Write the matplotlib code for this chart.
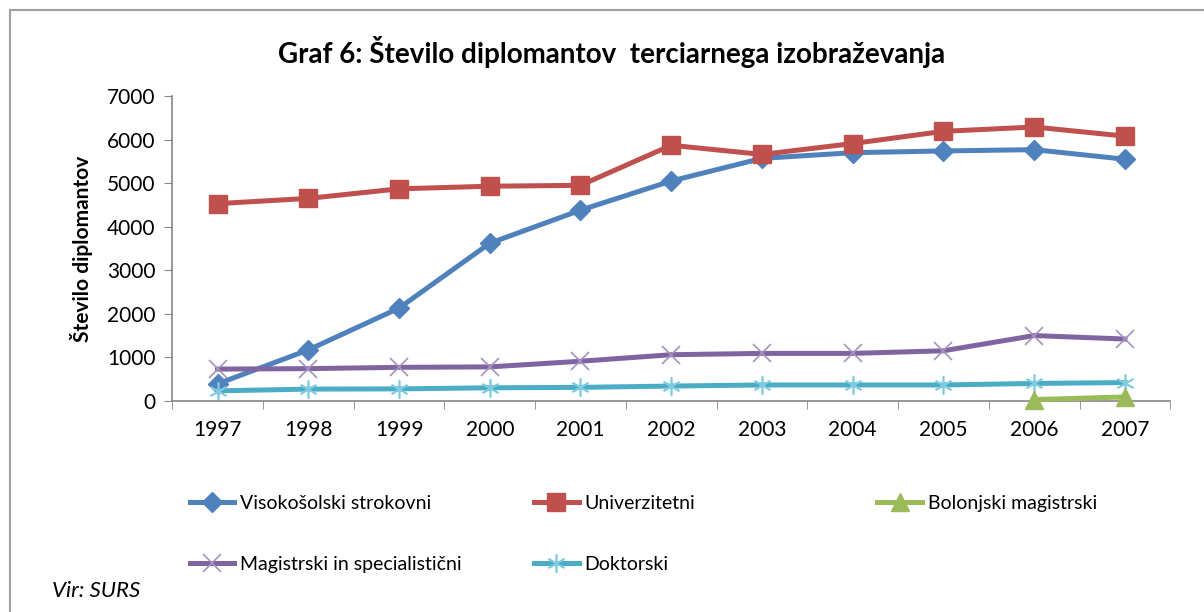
import numpy as np
import matplotlib.pyplot as plt
from matplotlib.patches import Rectangle

plt.rcParams['font.family'] = ['Lato', 'DejaVu Sans']

# podatki
leta = ['1997', '1998', '1999', '2000', '2001', '2002', '2003', '2004', '2005', '2006', '2007']
visokosolski = [390, 1170, 2130, 3620, 4380, 5050, 5570, 5700, 5740, 5770, 5550]
univerzitetni = [4530, 4650, 4870, 4930, 4950, 5870, 5660, 5910, 6190, 6290, 6080]
bolonjski = [30, 90]  # samo 2006, 2007
magistrski = [730, 740, 770, 780, 910, 1060, 1090, 1090, 1150, 1500, 1420]
doktorski = [230, 270, 275, 300, 310, 340, 365, 365, 365, 400, 420]

x = np.arange(len(leta))

fig = plt.figure(figsize=(12.04, 6.12), dpi=100)
ax = fig.add_axes([0.143, 0.345, 0.829, 0.498])

l1, = ax.plot(x, visokosolski, '-D', color='#4F81BD', lw=3.6, ms=10, label='Visokošolski strokovni')
l2, = ax.plot(x, univerzitetni, '-s', color='#C0504D', lw=3.6, ms=13, label='Univerzitetni')
l3, = ax.plot(x[-2:], bolonjski, '-^', color='#9BBB59', lw=3.6, ms=13, label='Bolonjski magistrski',
              clip_on=False, zorder=5)
l4, = ax.plot(x, magistrski, '-x', color='#8064A2', lw=3.6, ms=13, mew=1.2, mec='#A692C0', label='Magistrski in specialistični')
l5, = ax.plot(x, doktorski, '-', color='#4BACC6', lw=3.6, marker=(6, 2, 0), ms=13, mew=1.2, mec='#7FCBE0',
              label='Doktorski', clip_on=False)

ax.set_xlim(-0.5, 10.5)
ax.set_ylim(0, 7000)
ax.set_yticks(range(0, 7001, 1000))
ax.set_xticks(x)
ax.set_xticklabels(leta)
ax.set_xticks(np.arange(-0.5, 10.6, 1), minor=True)
ax.tick_params(axis='x', which='major', length=0, pad=14, labelsize=15)
ax.tick_params(axis='x', which='minor', length=6, color='#868686')
ax.tick_params(axis='y', length=6, color='#868686', labelsize=15, pad=6)
for s in ['top', 'right']:
    ax.spines[s].set_visible(False)
for s in ['left', 'bottom']:
    ax.spines[s].set_color('#868686')
    ax.spines[s].set_linewidth(1.2)

ax.set_ylabel('Število diplomantov', fontsize=15, fontweight='bold', labelpad=10)
fig.text(0.508, 0.915, 'Graf 6: Število diplomantov  terciarnega izobraževanja', ha='center', va='center',
         fontsize=20, fontweight='bold')

# legenda v treh stolpcih
kw = dict(frameon=False, fontsize=14, handlelength=2.3, labelspacing=2.25, loc='upper left', handletextpad=0.3)
fig.legend(handles=[l1, l4], bbox_to_anchor=(0.143, 0.22), **kw)
fig.legend(handles=[l2, l5], bbox_to_anchor=(0.429, 0.22), **kw)
fig.legend(handles=[l3], bbox_to_anchor=(0.714, 0.22), **kw)

fig.text(0.043, 0.035, 'Vir: SURS', fontsize=16, style='italic', va='center')

fig.patches.append(Rectangle((0.008, -0.1), 1.5, 1.083, transform=fig.transFigure,
                             fill=False, edgecolor='#A0A0A0', lw=1.5))

fig.savefig('out.png', dpi=100)
